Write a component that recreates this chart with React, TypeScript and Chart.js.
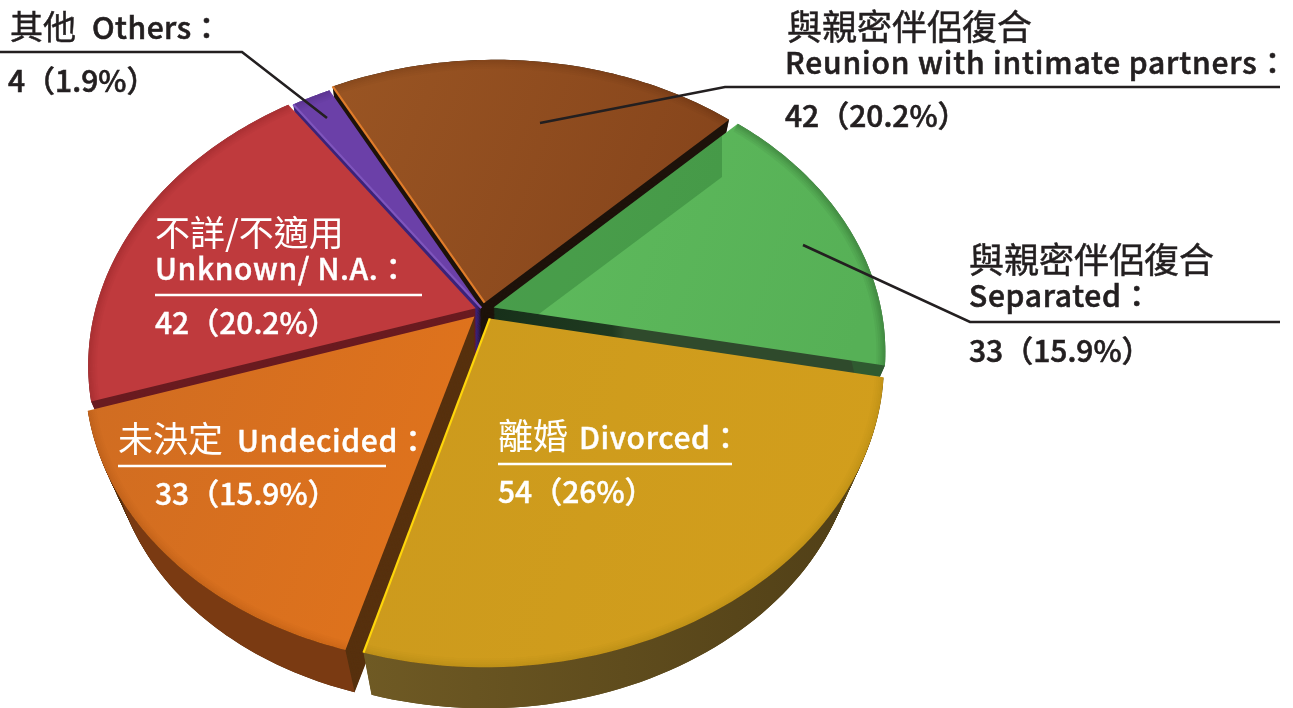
import React, { useEffect, useRef } from "react";
import { Chart, registerables } from "chart.js";

Chart.register(...registerables);

// ---- data ----
const categories = ["Reunion with intimate partners", "Separated", "Divorced", "Undecided", "Unknown/ N.A.", "Others"];
const counts = [42, 33, 54, 33, 42, 4];
const shares = ["20.2", "15.9", "26", "15.9", "20.2", "1.9"];
const sliceOffsets = [9, 10, 12, 11, 7, 3];

// ---- styles ----
const topStart = ["#9a5523", "#5fbb5d", "#cc9a1d", "#cf6c22", "#e8484e", "#6b40a8"];
const topEnd = ["#85441b", "#56b056", "#d29e1c", "#e0731c", "#bf3a3d", "#6b40a8"];
const radialWall = ["#1d120a", "#2f4a2c", "#5e4a1a", "#57300e", "#6a1b20", "#3c2278"];
const outerWall = ["#1d120a", "#2f5a30", "#6f5a24", "#7a3a12", "#6a1b20", "#3c2278"];
const edgeGlow = ["#e07c2a", "", "#ffd60a", "", "", "#7f55bd"];
const bevelAlpha = [0.02, 0.04, 0.012, 0.012, 0.02, 0.02];
const drawOrder = [0, 5, 1, 4, 3, 2];

// ---- projection of the flat pie on to a tilted plane ----
const centreX = 483, centreY = 310, spreadX = 384, spreadY = 286, tilt = 0.17, lean = 0.04;
const floorScale = 0.933, floorDrop = 65;

const project = (ux: number, uy: number): [number, number] => {
  const w = 1 - tilt * uy;
  const dx = (spreadX * ux) / w, dy = (spreadY * uy) / w;
  return [centreX + dx + dy * lean, centreY + dy - dx * lean];
};
const lower = ([x, y]: [number, number], t = 1): [number, number] => [
  x + t * (floorScale - 1) * (x - centreX),
  y + t * ((floorScale - 1) * (y - centreY) + floorDrop),
];

const outline = (el: any): [number, number][] => {
  const p = el.getProps(["startAngle", "endAngle", "outerRadius"], true);
  const mid = (p.startAngle + p.endAngle) / 2;
  const off = (el.options.offset || 0) / p.outerRadius;
  const ox = Math.cos(mid) * off, oy = Math.sin(mid) * off;
  const pts: [number, number][] = [project(ox, oy)];
  const steps = 64;
  for (let i = 0; i <= steps; i++) {
    const a = p.startAngle + ((p.endAngle - p.startAngle) * i) / steps;
    pts.push(project(ox + Math.cos(a), oy + Math.sin(a)));
  }
  return pts;
};

const tracePath = (ctx: CanvasRenderingContext2D, pts: [number, number][], close = true) => {
  ctx.beginPath();
  pts.forEach(([x, y], i) => (i ? ctx.lineTo(x, y) : ctx.moveTo(x, y)));
  if (close) ctx.closePath();
};

const tiltedPie = {
  id: "tiltedPie",
  beforeDatasetsDraw(chart: any) {
    const ctx: CanvasRenderingContext2D = chart.ctx;
    const arcs = chart.getDatasetMeta(0).data;
    const shapes = arcs.map(outline);
    ctx.save();
    for (const i of drawOrder) {
      const pts: [number, number][] = shapes[i];
      const xs = pts.map((q) => q[0]);
      const ys = pts.map((q) => q[1]);
      // radial walls
      if (i === 1) {
        const gw = ctx.createLinearGradient(495, 0, 625, 0);
        gw.addColorStop(0, "#17301a");
        gw.addColorStop(0.9, "#1f3a20");
        gw.addColorStop(1, radialWall[1]);
        ctx.fillStyle = gw;
      } else {
        ctx.fillStyle = radialWall[i];
      }
      for (let t = 1; t > 0; t -= 1 / 60) {
        tracePath(ctx, pts.map((q) => lower(q, t)));
        ctx.fill();
      }
      // outer wall
      const wallGrad = ctx.createLinearGradient(Math.min(...xs), 0, Math.max(...xs), 0);
      wallGrad.addColorStop(0, outerWall[i]);
      wallGrad.addColorStop(1, i === 2 ? "#4f3e16" : outerWall[i]);
      ctx.fillStyle = wallGrad;
      const rim = pts.slice(1);
      tracePath(ctx, [...rim, ...rim.map((q) => lower(q)).reverse()]);
      ctx.fill();
      // top face
      const g = ctx.createLinearGradient(Math.min(...xs), Math.min(...ys), Math.max(...xs), Math.max(...ys) * 0.7);
      g.addColorStop(0, topStart[i]);
      g.addColorStop(i === 4 ? 0.12 : 1, topEnd[i]);
      ctx.fillStyle = g;
      tracePath(ctx, pts);
      ctx.fill();
      // cast shadow + rim bevel
      ctx.save();
      tracePath(ctx, pts);
      ctx.clip();
      if (i === 1) {
        const b: [number, number][] = shapes[0];
        const a0 = b[0], a1 = b[b.length - 1];
        ctx.save();
        ctx.beginPath();
        ctx.rect(0, 0, 722, 708);
        ctx.clip();
        ctx.fillStyle = "rgba(10,70,20,0.24)";
        tracePath(ctx, [[a0[0] + 40, a0[1] + 22], [a1[0] + 40, a1[1] + 22], [a1[0] + 40, 0], [300, 0], [300, 400]]);
        ctx.fill();
        ctx.restore();
      }
      tracePath(ctx, rim, false);
      ctx.strokeStyle = `rgba(0,0,0,${bevelAlpha[i]})`;
      for (const w of [18, 14, 10, 7, 4]) {
        ctx.lineWidth = w;
        ctx.stroke();
      }
      ctx.restore();
      // bright edge along the left radius
      if (edgeGlow[i]) {
        ctx.strokeStyle = edgeGlow[i];
        ctx.lineWidth = 2.2;
        ctx.beginPath();
        ctx.moveTo(pts[0][0], pts[0][1]);
        const end = pts[i === 2 ? pts.length - 1 : 1];
        ctx.lineTo(end[0], end[1]);
        ctx.stroke();
      }
    }
    ctx.restore();
    return false;
  },
};

// ---- annotation text and layout ----
const DARK = "#231f20";
const WHITE = "#ffffff";
const CJK = '"Noto Sans CJK TC"';
const textRows: [string, number, number, string, number, number, number, number][] = [
  ["其他", 10, 39, DARK, 33, 400, 0, 0.5],
  ["Others：", 92, 39, DARK, 30, 500, 0.5, 0.6],
  [`${counts[5]}（${shares[5]}%）`, 8, 92, DARK, 30, 500, 0, 0.6],
  ["與親密伴侶復合", 787, 40, DARK, 35, 400, 0, 0.5],
  ["Reunion with intimate partners：", 785, 74, DARK, 30, 500, 0.85, 0.6],
  [`${counts[0]}（${shares[0]}%）`, 785, 127, DARK, 30, 500, 0, 0.6],
  ["與親密伴侶復合", 969, 273, DARK, 35, 400, 0, 0.5],
  [`${categories[1]}：`, 969, 307, DARK, 30, 500, 0.7, 0.6],
  [`${counts[1]}（${shares[1]}%）`, 969, 362, DARK, 30, 500, 0, 0.6],
  ["不詳/不適用", 155, 246, WHITE, 35, 400, 0, 0],
  ["Unknown/ N.A.：", 155, 280, WHITE, 30, 500, 0.6, 0.4],
  [`${counts[4]}（${shares[4]}%）`, 155, 334, WHITE, 30, 500, 0, 0.4],
  ["未決定", 118, 452, WHITE, 35, 400, 0, 0],
  ["Undecided：", 237, 452, WHITE, 30, 500, 0.6, 0.4],
  [`${counts[3]}（${shares[3]}%）`, 155, 505, WHITE, 30, 500, 0, 0.4],
  ["離婚", 498, 449, WHITE, 35, 400, 0, 0],
  ["Divorced：", 579, 449, WHITE, 30, 500, 0.6, 0.4],
  [`${counts[2]}（${shares[2]}%）`, 498, 503, WHITE, 30, 500, 0, 0.4],
];
const leaderLines: [string, number, [number, number][]][] = [
  [DARK, 2.6, [[0, 52], [242, 52], [327, 118]]],
  [DARK, 2.6, [[1280, 87], [725, 87], [540, 123]]],
  [DARK, 2.6, [[1280, 322], [970, 322], [803, 245]]],
  [WHITE, 2.4, [[155, 295], [422, 295]]],
  [WHITE, 2.4, [[118, 466], [386, 466]]],
  [WHITE, 2.4, [[498, 464], [732, 464]]],
];

const annotations = {
  id: "annotations",
  afterDraw(chart: any) {
    const ctx: any = chart.ctx;
    ctx.save();
    for (const [color, width, pts] of leaderLines) {
      ctx.strokeStyle = color;
      ctx.lineWidth = width;
      ctx.beginPath();
      pts.forEach(([x, y], i) => (i ? ctx.lineTo(x, y) : ctx.moveTo(x, y)));
      ctx.stroke();
    }
    ctx.textBaseline = "alphabetic";
    for (const [text, x, y, color, size, weight, spacing, thicken] of textRows) {
      ctx.font = `${weight} ${size}px ${CJK}`;
      ctx.letterSpacing = `${spacing}px`;
      ctx.fillStyle = color;
      ctx.fillText(text, x, y);
      if (thicken) {
        ctx.strokeStyle = color;
        ctx.lineWidth = thicken;
        ctx.strokeText(text, x, y);
      }
    }
    ctx.restore();
  },
};

export default function App() {
  const ref = useRef<HTMLCanvasElement>(null);
  useEffect(() => {
    const chart = new Chart(ref.current!, {
      type: "pie",
      data: {
        labels: categories,
        datasets: [{ data: counts, backgroundColor: topEnd, offset: sliceOffsets, borderWidth: 0 }],
      },
      options: {
        responsive: false,
        animation: false,
        rotation: -25.5,
        plugins: { legend: { display: false }, tooltip: { enabled: false } },
      },
      plugins: [tiltedPie, annotations],
    } as any);
    return () => chart.destroy();
  }, []);
  return (
    <canvas
      ref={ref}
      width={1293}
      height={708}
      style={{ position: "absolute", left: 0, top: 0, width: 1293, height: 708, background: "#fff" }}
    />
  );
}
